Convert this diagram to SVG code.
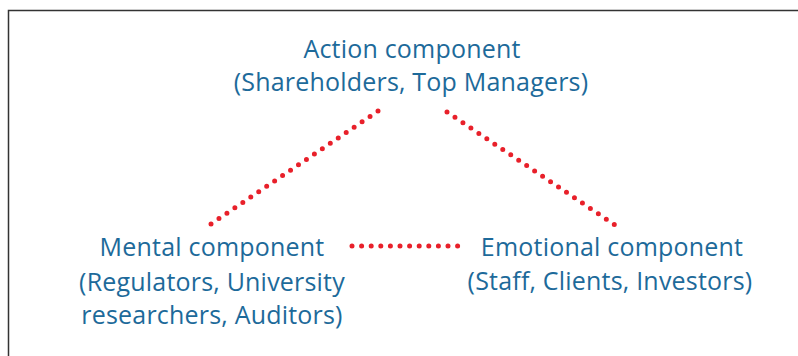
<svg xmlns="http://www.w3.org/2000/svg" width="798" height="356" viewBox="0 0 798 356">
<style>
.t{font-family:"Open Sans","Noto Sans","Liberation Sans",sans-serif;font-size:25px;letter-spacing:0.2px;fill:#1d6a9a;text-anchor:middle}
.c{stroke:#e8202a;stroke-width:5;stroke-linecap:round;stroke-dasharray:0 9.6;fill:none}
</style>
<rect width="798" height="356" fill="#fff"/>
<path d="M8.5 356V10.5H798" fill="none" stroke="#333" stroke-width="1.5"/>
<g id="connectors">
<line class="c" x1="378" y1="111" x2="208" y2="226"/>
<line class="c" x1="447" y1="112" x2="618" y2="227"/>
<line class="c" x1="352" y1="246" x2="465" y2="246"/>
</g>
<g id="action"><text class="t" x="412" y="58">Action component</text><text class="t" x="411" y="91">(Shareholders, Top Managers)</text></g>
<g id="mental"><text class="t" x="212" y="256">Mental component</text><text class="t" x="212" y="291">(Regulators, University</text><text class="t" x="212" y="324">researchers, Auditors)</text></g>
<g id="emotional"><text class="t" x="612" y="256">Emotional component</text><text class="t" x="610" y="290">(Staff, Clients, Investors)</text></g>
</svg>
